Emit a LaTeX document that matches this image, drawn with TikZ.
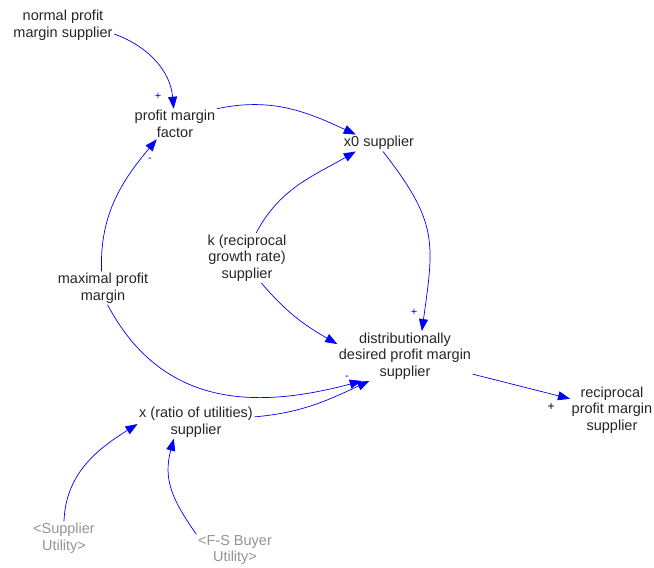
\documentclass[tikz,border=0pt]{standalone}
\usepackage{fontspec}
\setmainfont{Liberation Sans}
\usetikzlibrary{arrows.meta}
\begin{document}
\begin{tikzpicture}[x=1pt,y=1pt,
 var/.style={align=center,inner sep=1.5pt,font=\fontsize{14.5}{16.5}\selectfont,text=black!85},
 shadowvar/.style={var,text=black!42},
 link/.style={draw=blue,line width=0.7pt,-{Triangle[length=12pt,width=9pt]}},
 pol/.style={font=\fontsize{11}{11}\selectfont,text=blue},
 polk/.style={font=\fontsize{12}{12}\selectfont,text=black}]
\useasboundingbox (0,0) rectangle (654,-568);
\node[var] (nps) at (63,-25) {normal profit\\margin supplier};
\node[var] (pmf) at (175,-124) {profit margin\\factor};
\node[var] (x0) at (379,-143) {x0 supplier};
\node[var] (k) at (247,-258) {k (reciprocal\\growth rate)\\supplier};
\node[var] (mpm) at (103,-288) {maximal profit\\margin};
\node[var] (dd) at (405,-356) {distributionally\\desired profit margin\\supplier};
\node[var] (rpm) at (612,-410) {reciprocal\\profit margin\\supplier};
\node[var] (xr) at (196,-422) {x (ratio of utilities)\\supplier};
\node[shadowvar] (su) at (64,-538) {<Supplier\\Utility>};
\node[shadowvar] (fs) at (235,-550) {<F-S Buyer\\Utility>};

\draw[link] (nps.-10) to[out=-20,in=95] (pmf.95);
\draw[link] (pmf.20) to[out=12,in=155] (x0.160);
\draw[link] (mpm.95) to[out=92,in=230] (pmf.220);
\draw[link] (k.70) to[out=62,in=210] (x0.200);
\draw[link] (x0.-65) to[out=-52,in=82,looseness=1.25] (dd.56);
\draw[link] (k.-60) to[out=-50,in=150] (dd.170);
\draw[link] (mpm.-75) to[out=-62,in=195,looseness=1.1] (dd.-150);
\draw[link] (xr.5) to[out=5,in=205] (dd.-145);
\draw[link] (dd.-15) -- (rpm.165);
\draw[link] (su.90) to[out=88,in=212] (xr.182);
\draw[link] (fs.158) to[out=125,in=255,looseness=1.1] (xr.-143);

\node[pol] (p1) at (158,-96) {+};
\node[pol] (p2) at (150,-160) {-};
\node[pol] (p3) at (414,-312) {+};
\node[pol] (p4) at (347,-378) {-};
\node[polk] (p5) at (551,-407) {+};
\end{tikzpicture}
\end{document}
